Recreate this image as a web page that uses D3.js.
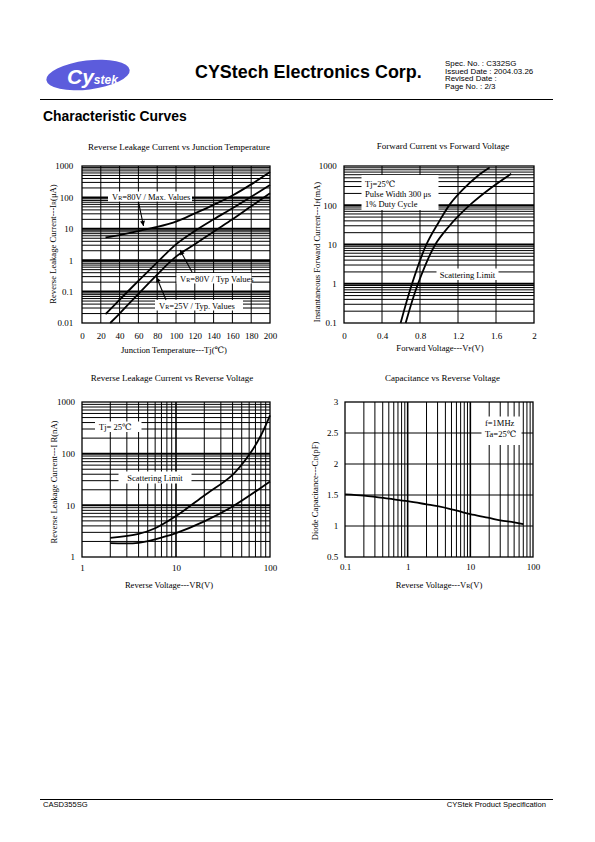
<!DOCTYPE html>
<html><head><meta charset="utf-8">
<script src="https://cdn.jsdelivr.net/npm/d3@7"></script>
<style>body{margin:0;background:#fff}svg{display:block}</style>
</head><body>
<svg id="page" width="595" height="842"></svg>
<script>
// ---------- DATA ----------
// Chart 1: Reverse leakage current vs junction temperature
const c1TempMax = [25, 40, 60, 70, 80, 100, 120, 140, 160, 180, 200];
const c1Max80 = [5.3, 6.3, 8.5, 10, 11.5, 17, 31, 58, 115, 260, 640];
const c1TempTyp80 = [25, 40, 60, 80, 100, 120, 140, 160, 180, 200];
const c1Typ80 = [0.019, 0.055, 0.22, 0.85, 3.2, 8.5, 20, 45, 105, 250];
const c1TempTyp25 = [30, 40, 60, 80, 100, 120, 140, 160, 180, 200];
const c1Typ25 = [0.01, 0.02, 0.085, 0.35, 1.3, 3.2, 8.1, 20, 52, 135];
const c1XTicks = [0, 20, 40, 60, 80, 100, 120, 140, 160, 180, 200];
const c1YTicks = [0.01, 0.1, 1, 10, 100, 1000];

// Chart 2: Forward current vs forward voltage
const c2VoltA = [0.596, 0.716, 0.867, 1.0, 1.12, 1.25, 1.4, 1.533];
const c2CurrA = [0.1, 1, 10, 38, 110, 250, 540, 910];
const c2VoltB = [0.649, 0.779, 0.961, 1.1, 1.2, 1.35, 1.55, 1.76];
const c2CurrB = [0.1, 1, 10, 28, 52, 115, 280, 635];
const c2XTicks = [0, 0.4, 0.8, 1.2, 1.6, 2];
const c2YTicks = [0.1, 1, 10, 100, 1000];

// Chart 3: Reverse leakage current vs reverse voltage
const c3VoltHi = [2, 4, 6, 10, 20, 40, 60, 80, 100];
const c3CurrHi = [2.35, 2.8, 3.6, 6.2, 15.5, 39, 95, 225, 550];
const c3VoltLo = [2, 4, 7.7, 10, 20, 40, 100];
const c3CurrLo = [1.86, 1.88, 2.5, 2.9, 4.9, 9.5, 29];
const c3XTicks = [1, 10, 100];
const c3YTicks = [1, 10, 100, 1000];

// Chart 4: Capacitance vs reverse voltage
const c4Volt = [0.1, 0.2, 0.3, 0.5, 1, 2, 3, 5, 7, 10, 20, 30, 50, 70];
const c4Cap = [1.51, 1.49, 1.47, 1.44, 1.40, 1.35, 1.32, 1.27, 1.23, 1.19, 1.13, 1.09, 1.06, 1.03];
const c4XTicks = [0.1, 1, 10, 100];
const c4YTicks = [0.5, 1, 1.5, 2, 2.5, 3];

// ---------- DRAWING ----------
const svg = d3.select("#page");
const SERIF = "'Liberation Serif','DejaVu Serif',serif";
const SANS = "'Liberation Sans',Arial,sans-serif";

svg.append("defs").append("marker")
  .attr("id", "ah").attr("viewBox", "0 0 10 10")
  .attr("refX", 10).attr("refY", 5)
  .attr("markerWidth", 6).attr("markerHeight", 5)
  .attr("markerUnits", "userSpaceOnUse")
  .attr("orient", "auto")
  .append("path").attr("d", "M0,0L10,5L0,10z").attr("fill", "#000");

// header
const logo = svg.append("g");
logo.append("ellipse").attr("cx", 88).attr("cy", 75).attr("rx", 42).attr("ry", 14.5)
  .attr("transform", "rotate(-7 88 75)").attr("fill", "#5c5cdc");
logo.append("text").attr("x", 67).attr("y", 84).attr("fill", "#fff")
  .attr("font-family", SANS).attr("font-weight", "bold").attr("font-style", "italic")
  .attr("font-size", 21).text("Cy")
  .append("tspan").attr("font-size", 12).text("stek");

svg.append("text").attr("x", 195).attr("y", 77.5).attr("font-family", SANS)
  .attr("font-weight", "bold").attr("font-size", 17.9).text("CYStech Electronics Corp.");
const spec = ["Spec. No. : C332SG", "Issued Date : 2004.03.26", "Revised Date :", "Page No. : 2/3"];
svg.selectAll("text.spec").data(spec).enter().append("text").attr("class", "spec")
  .attr("x", 445).attr("y", (d, i) => 66 + i * 7.7)
  .attr("font-family", SANS).attr("font-size", 7.9).text(d => d);
svg.append("line").attr("x1", 40).attr("x2", 553).attr("y1", 99.5).attr("y2", 99.5)
  .attr("stroke", "#000").attr("stroke-width", 1.2);
svg.append("text").attr("x", 43).attr("y", 121).attr("font-family", SANS)
  .attr("font-weight", "bold").attr("font-size", 13.9).text("Characteristic Curves");

// footer
svg.append("line").attr("x1", 40).attr("x2", 553).attr("y1", 799.5).attr("y2", 799.5)
  .attr("stroke", "#000").attr("stroke-width", 1);
svg.append("text").attr("x", 43).attr("y", 806.5).attr("font-family", SANS)
  .attr("font-size", 7.6).text("CASD355SG");
svg.append("text").attr("x", 546).attr("y", 806.5).attr("text-anchor", "end")
  .attr("font-family", SANS).attr("font-size", 7.6).text("CYStek Product Specification");

function logMinor(lo, hi) {
  const out = [];
  for (let e = Math.floor(Math.log10(lo)) - 1; e <= Math.ceil(Math.log10(hi)); e++) {
    for (let d = 1; d <= 9; d++) {
      const v = +(d * Math.pow(10, e)).toPrecision(6);
      if (v > lo * 1.0001 && v < hi * 0.9999) out.push({ v: v, major: d === 1 });
    }
  }
  return out;
}

function drawFrame(g, x, y, xGrid, yGrid) {
  const [x0, x1] = x.range(), [y0, y1] = y.range();
  g.selectAll("line.gx").data(xGrid).enter().append("line")
    .attr("x1", d => x(d.v)).attr("x2", d => x(d.v)).attr("y1", y0).attr("y2", y1)
    .attr("stroke", "#000").attr("stroke-width", d => d.major ? 1.6 : 1);
  g.selectAll("line.gy").data(yGrid).enter().append("line")
    .attr("y1", d => y(d.v)).attr("y2", d => y(d.v)).attr("x1", x0).attr("x2", x1)
    .attr("stroke", "#000").attr("stroke-width", d => d.major ? 2 : 1);
  g.append("rect").attr("x", x0).attr("y", y1).attr("width", x1 - x0).attr("height", y0 - y1)
    .attr("fill", "none").attr("stroke", "#000").attr("stroke-width", 1.3);
}

function axes(g, x, y, xt, yt, xf, yf, xpad, ypad) {
  const ax = g.append("g").attr("transform", `translate(0,${y.range()[0]})`)
    .call(d3.axisBottom(x).tickValues(xt).tickFormat(xf).tickSize(0).tickPadding(xpad));
  const ay = g.append("g").attr("transform", `translate(${x.range()[0]},0)`)
    .call(d3.axisLeft(y).tickValues(yt).tickFormat(yf).tickSize(0).tickPadding(ypad));
  [ax, ay].forEach(a => {
    a.select(".domain").remove();
    a.selectAll("text").attr("font-family", SERIF).attr("font-size", 9).attr("fill", "#000");
  });
}

function curve(g, x, y, xs, ys) {
  const pts = xs.map((v, i) => [x(v), y(ys[i])]);
  g.append("path").attr("d", d3.line().curve(d3.curveCatmullRom.alpha(0.5))(pts))
    .attr("fill", "none").attr("stroke", "#000").attr("stroke-width", 1.8);
}

function boxLabel(g, bx, by, bw, bh, lines, tx, ty, lh, anchor) {
  g.append("rect").attr("x", bx).attr("y", by).attr("width", bw).attr("height", bh).attr("fill", "#fff");
  lines.forEach((ln, i) => {
    const t = g.append("text").attr("x", tx).attr("y", ty + i * lh)
      .attr("font-family", SERIF).attr("font-size", 8.5).attr("text-anchor", anchor || "start");
    ln.forEach(seg => {
      const s = t.append("tspan").text(seg.t);
      if (seg.sub) s.attr("font-size", 6);
    });
  });
}

function title(txt, cx, cy) {
  svg.append("text").attr("x", cx).attr("y", cy).attr("text-anchor", "middle")
    .attr("font-family", SERIF).attr("font-size", 9).text(txt);
}
function yLabel(parts, cx, cy) {
  const t = svg.append("text").attr("transform", `translate(${cx},${cy}) rotate(-90)`)
    .attr("text-anchor", "middle").attr("font-family", SERIF).attr("font-size", 8.6);
  parts.forEach(p => { const s = t.append("tspan").text(p.t); if (p.sub) s.attr("font-size", 6); });
}
function xLabel(parts, cx, cy) {
  const t = svg.append("text").attr("x", cx).attr("y", cy).attr("text-anchor", "middle")
    .attr("font-family", SERIF).attr("font-size", 8.6);
  parts.forEach(p => { const s = t.append("tspan").text(p.t); if (p.sub) s.attr("font-size", 6); });
}
function arrow(g, xa, ya, xb, yb) {
  g.append("line").attr("x1", xa).attr("y1", ya).attr("x2", xb).attr("y2", yb)
    .attr("stroke", "#000").attr("stroke-width", 1.1).attr("marker-end", "url(#ah)");
}
const fmtNum = d => String(d);

// ---- Chart 1 ----
{
  const g = svg.append("g");
  const x = d3.scaleLinear().domain([0, 200]).range([82, 270]);
  const y = d3.scaleLog().domain([0.01, 1000]).range([323, 166]);
  const xGrid = c1XTicks.slice(1, -1).map(v => ({ v: v, major: false }));
  drawFrame(g, x, y, xGrid, logMinor(0.01, 1000));
  axes(g, x, y, c1XTicks, c1YTicks, fmtNum, fmtNum, 9.8, 8.7);
  boxLabel(g, 108, 191.5, 84, 10, [[{ t: "V" }, { t: "R", sub: 1 }, { t: "=80V / Max. Values" }]], 112, 199.5, 0);
  boxLabel(g, 176.5, 273, 75, 10.5, [[{ t: "V" }, { t: "R", sub: 1 }, { t: "=80V / Typ Values" }]], 180, 281.5, 0);
  boxLabel(g, 155, 300, 88, 10.5, [[{ t: "V" }, { t: "R", sub: 1 }, { t: "=25V / Typ. Values" }]], 159, 308.5, 0);
  curve(g, x, y, c1TempMax, c1Max80);
  curve(g, x, y, c1TempTyp80, c1Typ80);
  curve(g, x, y, c1TempTyp25, c1Typ25);
  arrow(g, 138.5, 202, 143.5, 226);
  arrow(g, 192, 272, 180, 250);
  arrow(g, 166, 300, 156.5, 277);
  title("Reverse Leakage Current vs Junction Temperature", 179, 150);
  yLabel([{ t: "Reverse Leakage Current---I" }, { t: "R", sub: 1 }, { t: "(μA)" }], 56, 244);
  xLabel([{ t: "Junction Temperature---Tj(℃)" }], 174, 353);
}

// ---- Chart 2 ----
{
  const g = svg.append("g");
  const x = d3.scaleLinear().domain([0, 2]).range([344, 534]);
  const y = d3.scaleLog().domain([0.1, 1000]).range([323, 166]);
  const xGrid = c2XTicks.slice(1, -1).map(v => ({ v: v, major: false }));
  drawFrame(g, x, y, xGrid, logMinor(0.1, 1000));
  axes(g, x, y, c2XTicks, c2YTicks, fmtNum, fmtNum, 9.6, 7.3);
  boxLabel(g, 361.5, 175, 77, 35, [[{ t: "Tj=25℃" }], [{ t: "Pulse Width 300 μs" }], [{ t: "1% Duty Cycle" }]], 365, 187, 10);
  boxLabel(g, 436.5, 268.5, 62, 11.5, [[{ t: "Scattering Limit" }]], 467.5, 277.5, 0, "middle");
  curve(g, x, y, c2VoltA, c2CurrA);
  curve(g, x, y, c2VoltB, c2CurrB);
  title("Forward Current vs Forward Voltage", 443, 149);
  yLabel([{ t: "Instantaneous Forward Current---I" }, { t: "F", sub: 1 }, { t: "(mA)" }], 320, 252);
  xLabel([{ t: "Forward Voltage---V" }, { t: "F", sub: 1 }, { t: "(V)" }], 440, 351);
}

// ---- Chart 3 ----
{
  const g = svg.append("g");
  const x = d3.scaleLog().domain([1, 100]).range([82, 270]);
  const y = d3.scaleLog().domain([1, 1000]).range([557, 402]);
  drawFrame(g, x, y, logMinor(1, 100), logMinor(1, 1000));
  axes(g, x, y, c3XTicks, c3YTicks, fmtNum, fmtNum, 7.3, 7);
  boxLabel(g, 95, 421.5, 46.5, 10.5, [[{ t: "Tj=  25℃" }]], 99, 430, 0);
  boxLabel(g, 118.5, 471.5, 73, 12, [[{ t: "Scattering Limit" }]], 155, 481, 0, "middle");
  curve(g, x, y, c3VoltHi, c3CurrHi);
  curve(g, x, y, c3VoltLo, c3CurrLo);
  title("Reverse Leakage Current vs Reverse Voltage", 172, 380.5);
  yLabel([{ t: "Reverse Leakage Current---I R(nA)" }], 57, 482);
  xLabel([{ t: "Reverse Voltage---VR(V)" }], 169, 588);
}

// ---- Chart 4 ----
{
  const g = svg.append("g");
  const x = d3.scaleLog().domain([0.1, 100]).range([345, 533]);
  const y = d3.scaleLinear().domain([0.5, 3]).range([557, 402]);
  const yGrid = c4YTicks.slice(1, -1).map(v => ({ v: v, major: false }));
  drawFrame(g, x, y, logMinor(0.1, 100), yGrid);
  axes(g, x, y, c4XTicks, c4YTicks, fmtNum, fmtNum, 6.3, 6.7);
  boxLabel(g, 481.5, 416.5, 40, 28.5, [[{ t: "f=1MHz" }], [{ t: "Ta=25℃" }]], 485, 425.5, 11);
  curve(g, x, y, c4Volt, c4Cap);
  title("Capacitance vs Reverse Voltage", 442.5, 381);
  yLabel([{ t: "Diode Capacitance---C" }, { t: "D", sub: 1 }, { t: "(pF)" }], 318, 491);
  xLabel([{ t: "Reverse Voltage---V" }, { t: "R", sub: 1 }, { t: "(V)" }], 439, 588);
}
</script>
</body></html>
